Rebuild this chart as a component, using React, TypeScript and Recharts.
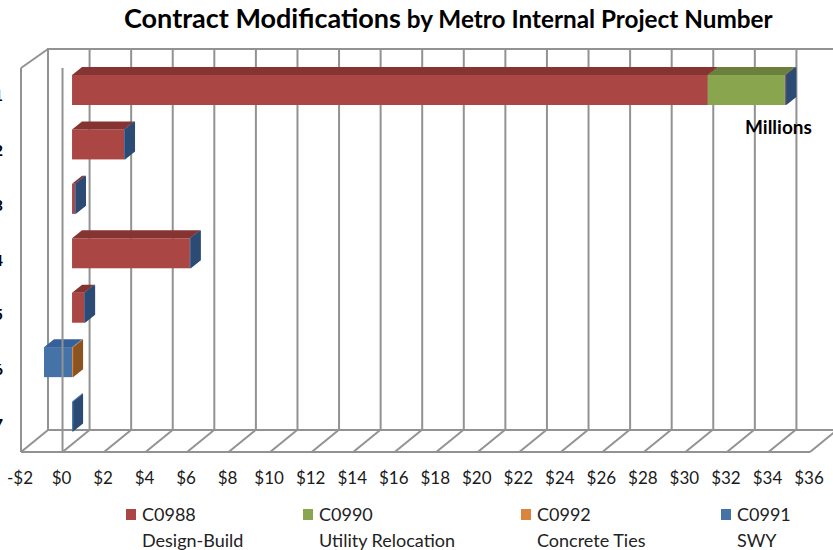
import { BarChart, Bar, XAxis, YAxis, CartesianGrid, ReferenceArea, ReferenceLine } from "recharts";

// project rows, top to bottom (labels are cut off at the left edge in the original)
const projects = ["Project 1", "Project 2", "Project 3", "Project 4", "Project 5", "Project 6", "Project 7"];

// $ millions
const c0988 = [30.6, 2.5, 0.14, 5.67, 0.58, 0, 0];
const c0990 = [3.7, 0, 0, 0, 0, 0, 0];
const c0992 = [0.03, 0, 0, 0, 0, 0.05, 0];
const c0991 = [0.05, 0.05, 0.05, 0.05, 0.05, -1.35, 0.05];

const xTicks = [-2, 0, 2, 4, 6, 8, 10, 12, 14, 16, 18, 20, 22, 24, 26, 28, 30, 32, 34, 36];

const seriesKeys = ["C0988", "C0990", "C0992", "C0991"];
const seriesNames = ["Design-Build", "Utility Relocation", "Concrete Ties", "SWY"];

const colors: Record<string, { face: string; top: string; side: string }> = {
  C0988: { face: "#AA4643", top: "#853431", side: "#7a2f2c" },
  C0990: { face: "#89A54E", top: "#6B803C", side: "#5f7235" },
  C0992: { face: "#DB843D", top: "#B0692E", side: "#8B5320" },
  C0991: { face: "#4572A7", top: "#36609A", side: "#2B4B75" },
};
const legendLeft = [126, 303, 521, 721];

const data = projects.map((project, i) => ({
  project,
  C0988: c0988[i],
  C0990: c0990[i],
  C0992: c0992[i],
  C0991: c0991[i],
}));

const DX = 10;
const DY = -8;
const GRID = "#929292";
const FONT = "Lato, 'Open Sans', sans-serif";
const LABEL_GAP = 20;

const money = (v: number) => (v < 0 ? `-$${-v}` : `$${v}`);

const make3DBar = (key: string) => (props: any) => {
  const { x, y, width, height, payload } = props;
  const v = payload[key];
  if (!v) return <g />;
  const c = colors[key];
  const x0 = Math.min(x, x + width);
  const x1 = Math.max(x, x + width);
  return (
    <g>
      <rect x={x0} y={y} width={x1 - x0} height={height} fill={c.face} />
      <polygon
        points={`${x0},${y} ${x0 + DX},${y + DY} ${x1 + DX},${y + DY} ${x1},${y}`}
        fill={c.top}
      />
      {v > 0 && (
        <polygon
          points={`${x1},${y} ${x1 + DX},${y + DY} ${x1 + DX},${y + height + DY} ${x1},${y + height}`}
          fill={c.side}
        />
      )}
    </g>
  );
};

const Nothing = () => <g />;

// value label plus the floor diagonal going back from the front edge
const FrontTick = (props: any) => {
  const { x, y, payload } = props;
  const y0 = y - LABEL_GAP;
  return (
    <g>
      <line x1={x} y1={y0} x2={x + 27} y2={y0 - 22} stroke={GRID} strokeWidth={2} />
      <text x={x - 1} y={y} dy="0.71em" textAnchor="middle" fontSize={17} fill="#1a1a1a" fontFamily={FONT}>
        {money(payload.value)}
      </text>
    </g>
  );
};

// top edge of the left wall
const WallTick = (props: any) => (
  <line x1={props.x} y1={props.y} x2={props.x + 27} y2={props.y - 19} stroke={GRID} strokeWidth={2} />
);

const CutLabel = (props: any) => (
  <text x={props.x} y={props.y} dy="0.35em" textAnchor="end" fontSize={16} fontWeight="bold" fill="#000" fontFamily={FONT}>
    {props.payload.value}
  </text>
);

const App = () => {
  return (
    <div
      style={{
        position: "absolute",
        left: 0,
        top: 0,
        width: 833,
        height: 550,
        overflow: "hidden",
        background: "#fff",
        fontFamily: FONT,
      }}
    >
      <div style={{ position: "absolute", left: 124, top: 1, whiteSpace: "nowrap", fontWeight: "bold", color: "#000" }}>
        <span style={{ fontSize: 27 }}>Contract Modifications</span>
        <span style={{ fontSize: 24.3 }}> by Metro Internal Project Number</span>
      </div>

      {/* back wall */}
      <div style={{ position: "absolute", left: 0, top: 0 }}>
        <BarChart width={860} height={550} data={data} layout="vertical" margin={{ top: 49, right: 22, bottom: 120, left: 48 }}>
          <CartesianGrid horizontal={false} stroke={GRID} strokeWidth={2} />
          <XAxis type="number" domain={[-2, 36]} ticks={xTicks} hide />
          <YAxis type="category" dataKey="project" hide />
          <Bar dataKey="C0988" shape={<Nothing />} isAnimationActive={false} />
          <ReferenceArea x1={-2} x2={36} fill="none" stroke={GRID} strokeWidth={2} ifOverflow="visible" />
        </BarChart>
      </div>

      {/* bars, in the middle of the depth */}
      <div style={{ position: "absolute", left: 0, top: 0 }}>
        <BarChart width={860} height={550} data={data} layout="vertical" stackOffset="sign" barSize={30} margin={{ top: 63, right: 40, bottom: 106, left: 30.5 }}>
          <XAxis type="number" domain={[-2, 36]} ticks={xTicks} hide />
          <YAxis type="category" dataKey="project" hide />
          {seriesKeys.map((k, i) => (
            <Bar key={k} dataKey={k} name={`${k} ${seriesNames[i]}`} stackId="a" fill={colors[k].face} shape={make3DBar(k)} isAnimationActive={false} />
          ))}
        </BarChart>
      </div>

      {/* front edge, floor, left wall, axis labels */}
      <div style={{ position: "absolute", left: 0, top: 0 }}>
        <BarChart width={860} height={550} data={data} layout="vertical" margin={{ top: 49, right: 50, bottom: 58, left: 0 }}>
          <XAxis
            type="number"
            domain={[-2, 36]}
            ticks={xTicks}
            height={40}
            axisLine={{ stroke: GRID, strokeWidth: 2 }}
            tickLine={false}
            tickSize={0}
            tickMargin={LABEL_GAP}
            tick={<FrontTick />}
            interval={0}
          />
          <XAxis
            xAxisId="top"
            orientation="top"
            type="number"
            domain={[-2, 36]}
            ticks={[-2]}
            height={19}
            axisLine={false}
            tickLine={false}
            tickSize={0}
            tickMargin={0}
            tick={<WallTick />}
            interval={0}
          />
          <YAxis
            type="category"
            dataKey="project"
            width={21}
            axisLine={{ stroke: GRID, strokeWidth: 2 }}
            tickLine={false}
            tickSize={0}
            tickMargin={18}
            tick={<CutLabel />}
          />
          <Bar dataKey="C0988" shape={<Nothing />} isAnimationActive={false} />
          <Bar xAxisId="top" dataKey="C0988" shape={<Nothing />} isAnimationActive={false} />
          <ReferenceLine x={0} stroke={GRID} strokeWidth={2} ifOverflow="visible" />
        </BarChart>
      </div>

      <div style={{ position: "absolute", left: 745, top: 115, fontWeight: "bold", fontSize: 19, color: "#000" }}>Millions</div>

      {seriesKeys.map((k, i) => (
        <div key={k} style={{ position: "absolute", left: legendLeft[i], top: 501, display: "flex", alignItems: "flex-start", fontSize: 18, color: "#222" }}>
          <div style={{ width: 10, height: 11, marginTop: 8, marginRight: 6, background: colors[k].face }} />
          <div style={{ lineHeight: "26px", whiteSpace: "nowrap" }}>
            <div>{k}</div>
            <div>{seriesNames[i]}</div>
          </div>
        </div>
      ))}
    </div>
  );
};

export default App;
